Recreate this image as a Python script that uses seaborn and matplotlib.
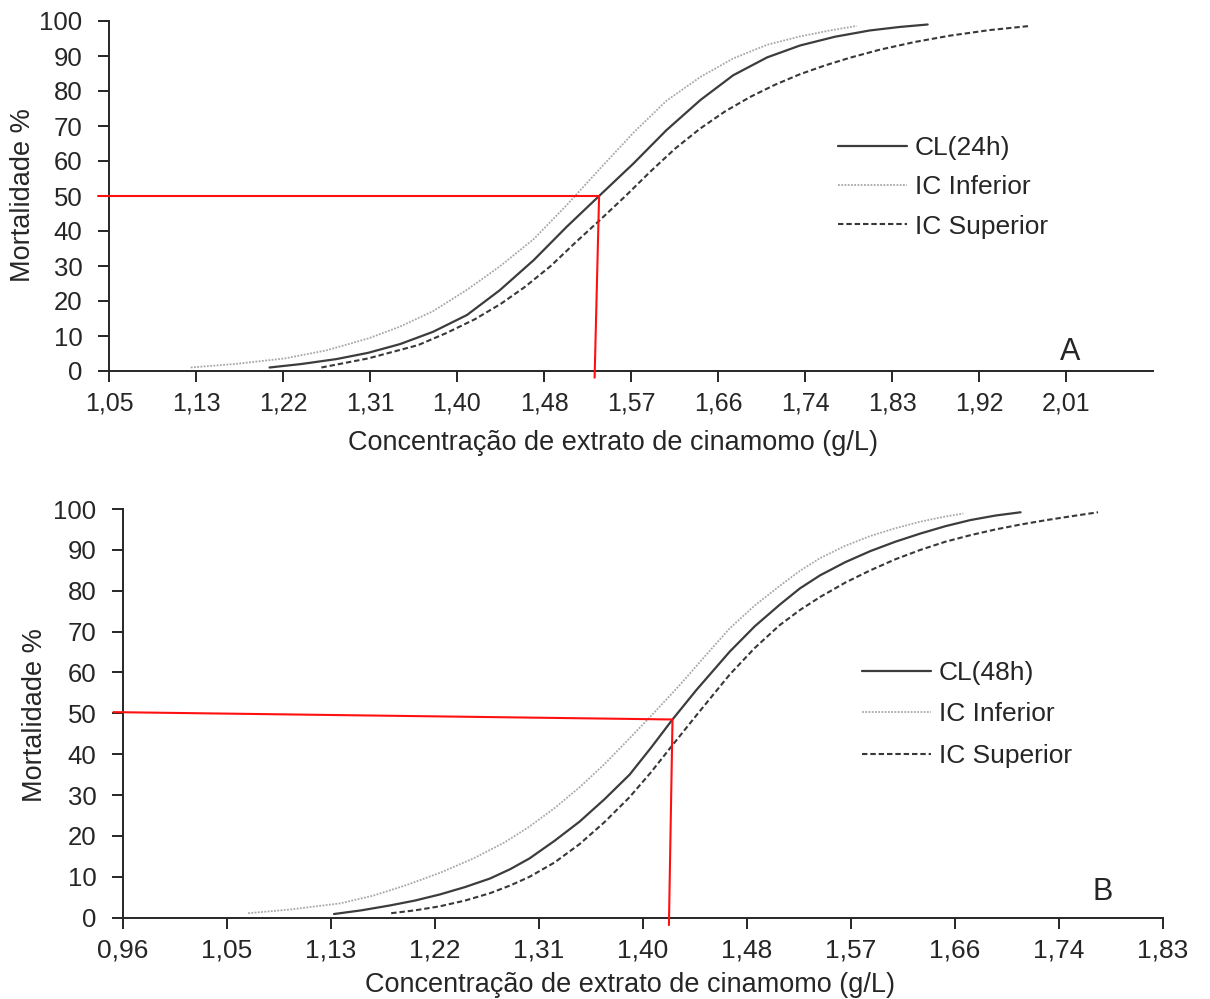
import matplotlib
matplotlib.use("Agg")
import matplotlib.pyplot as plt
from matplotlib.lines import Line2D
import seaborn as sns
import pandas as pd

sns.set_style("white")
plt.rcParams["font.family"] = ["Liberation Sans", "DejaVu Sans"]

# ---------------- Panel A: 24 h ----------------
a_ticks = ["1,05", "1,13", "1,22", "1,31", "1,40", "1,48", "1,57", "1,66",
           "1,74", "1,83", "1,92", "2,01"]
a_cl_x = [1.208, 1.240, 1.275, 1.307, 1.339, 1.372, 1.406, 1.439, 1.473,
          1.506, 1.5385, 1.573, 1.606, 1.640, 1.673, 1.707, 1.740, 1.775,
          1.810, 1.840, 1.868]
a_cl_y = [1.0, 2.0, 3.4, 5.2, 7.7, 11.2, 16.0, 23.1, 31.7,
          41.2, 50.0, 59.3, 68.8, 77.4, 84.5, 89.6, 93.0, 95.5,
          97.3, 98.3, 99.0]
a_inf_x = [1.129, 1.173, 1.2235, 1.265, 1.307, 1.339, 1.372, 1.406, 1.439,
           1.473, 1.506, 1.540, 1.573, 1.606, 1.640, 1.673, 1.707, 1.740,
           1.770, 1.797]
a_inf_y = [1.0, 2.0, 3.6, 5.9, 9.3, 12.7, 17.1, 23.2, 29.9,
           37.7, 47.4, 58.0, 68.1, 77.2, 84.0, 89.3, 93.2, 95.6,
           97.3, 98.6]
a_sup_x = [1.260, 1.307, 1.357, 1.385, 1.414, 1.440, 1.464, 1.490, 1.514,
           1.540, 1.565, 1.590, 1.615, 1.640, 1.665, 1.690, 1.715, 1.740,
           1.765, 1.790, 1.820, 1.855, 1.890, 1.930, 1.971]
a_sup_y = [1.0, 3.6, 7.4, 10.8, 14.8, 19.2, 24.0, 30.0, 36.5,
           43.3, 50.0, 57.0, 63.6, 69.3, 74.2, 78.3, 81.8, 84.8,
           87.3, 89.5, 91.8, 94.0, 95.8, 97.4, 98.6]
a_lc50_x = [1.036, 1.5385, 1.534]
a_lc50_y = [50.0, 50.0, -1.9]

# ---------------- Panel B: 48 h ----------------
b_ticks = ["0,96", "1,05", "1,13", "1,22", "1,31", "1,40", "1,48", "1,57",
           "1,66", "1,74", "1,83"]
b_cl_x = [1.137, 1.160, 1.184, 1.205, 1.226, 1.247, 1.268, 1.285, 1.301,
          1.322, 1.343, 1.364, 1.385, 1.403, 1.421, 1.441, 1.469, 1.490,
          1.511, 1.528, 1.545, 1.566, 1.587, 1.608, 1.629, 1.650, 1.671,
          1.692, 1.713]
b_cl_y = [0.9, 1.8, 3.0, 4.2, 5.7, 7.5, 9.6, 11.9, 14.5,
          18.8, 23.5, 29.0, 35.0, 41.6, 48.5, 55.7, 65.1, 71.3,
          76.6, 80.6, 83.8, 87.0, 89.7, 92.0, 94.0, 95.8, 97.3,
          98.4, 99.2]
b_inf_x = [1.065, 1.100, 1.142, 1.170, 1.198, 1.226, 1.254, 1.280, 1.301,
           1.322, 1.343, 1.364, 1.385, 1.406, 1.427, 1.448, 1.469, 1.490,
           1.511, 1.528, 1.545, 1.566, 1.587, 1.608, 1.629, 1.647, 1.665]
b_inf_y = [1.1, 2.0, 3.5, 5.4, 8.0, 11.0, 14.5, 18.4, 22.3,
           26.8, 31.9, 37.6, 43.9, 50.3, 56.9, 63.9, 70.8, 76.4,
           81.2, 84.9, 88.0, 91.0, 93.4, 95.3, 96.9, 98.0, 98.9]
b_sup_x = [1.185, 1.205, 1.226, 1.247, 1.268, 1.285, 1.301, 1.322, 1.343,
           1.364, 1.385, 1.403, 1.419, 1.441, 1.469, 1.490, 1.511, 1.528,
           1.545, 1.566, 1.587, 1.608, 1.629, 1.650, 1.671, 1.692, 1.713,
           1.735, 1.755, 1.778]
b_sup_y = [1.1, 1.8, 2.8, 4.2, 6.0, 7.9, 10.0, 13.5, 18.0,
           23.4, 29.5, 35.6, 41.5, 49.5, 59.5, 66.0, 71.6, 75.3,
           78.5, 82.0, 85.0, 87.7, 90.0, 92.0, 93.6, 95.0, 96.2,
           97.3, 98.2, 99.2]
b_lc50_x = [0.952, 1.421, 1.418]
b_lc50_y = [50.3, 48.5, -1.8]

y_ticks = list(range(0, 101, 10))
STEP = 0.08725

W, H = 1210, 999
fig = plt.figure(figsize=(W / 100, H / 100), dpi=100)
fig.patch.set_facecolor("white")

TXT = "#262626"
styles = {
    "cl": dict(color="#3c3c3c", linestyle="-", linewidth=1.6),
    "inf": dict(color="#a8a8a8", linestyle=(0, (1.0, 0.8)), linewidth=1.3),
    "sup": dict(color="#383838", linestyle=(0, (2.6, 1.4)), linewidth=1.5),
}


def draw_panel(ax, start, nsteps, ticklabels, series, lc50, cl_label,
               letter, letter_xy, legend_xy, tick_fs, label_sp):
    for key, (xs, ys) in series.items():
        df = pd.DataFrame({"x": xs, "y": ys})
        sns.lineplot(data=df, x="x", y="y", ax=ax, sort=False,
                     estimator=None, legend=False, **styles[key])
    ax.plot(lc50[0], lc50[1], color="#ff1010", linewidth=1.5,
            clip_on=False, zorder=5)

    ax.set_xlim(start, start + nsteps * STEP)
    ax.set_ylim(0, 100)
    ax.set_xticks([start + k * STEP for k in range(len(ticklabels))])
    ax.set_xticklabels(ticklabels)
    ax.set_yticks(y_ticks)
    ax.set_yticklabels([str(v) for v in y_ticks])
    ax.set_xlabel("")
    ax.set_ylabel("")
    for side in ("top", "right"):
        ax.spines[side].set_visible(False)
    for side in ("left", "bottom"):
        ax.spines[side].set_color(TXT)
        ax.spines[side].set_linewidth(1.4)
    ax.tick_params(axis="both", direction="out", length=8, width=1.4,
                   colors=TXT, bottom=True, left=True)
    ax.tick_params(axis="x", labelsize=tick_fs, pad=7)
    ax.tick_params(axis="y", labelsize=18.5, pad=11)
    ax.set_facecolor("white")

    handles = [
        Line2D([], [], **styles["cl"]),
        Line2D([], [], **styles["inf"]),
        Line2D([], [], **styles["sup"]),
    ]
    ax.legend(handles, [cl_label, "IC Inferior", "IC Superior"],
              loc="upper left", bbox_to_anchor=legend_xy,
              bbox_transform=fig.transFigure, frameon=False,
              fontsize=19, handlelength=2.6, handletextpad=0.3,
              labelspacing=label_sp, borderpad=0, borderaxespad=0,
              labelcolor=TXT)
    fig.text(letter_xy[0], letter_xy[1], letter, fontsize=22, color=TXT,
             ha="center", va="center")


axA = fig.add_axes([109 / W, 1 - 371 / H, 1044 / W, 350 / H])
draw_panel(axA, 1.047, 12, a_ticks,
           {"inf": (a_inf_x, a_inf_y), "sup": (a_sup_x, a_sup_y),
            "cl": (a_cl_x, a_cl_y)},
           (a_lc50_x, a_lc50_y), "CL(24h)", "A",
           (1070 / W, 1 - 352 / H), (838 / W, 1 - 136 / H), 18, 0.58)

axB = fig.add_axes([123 / W, 1 - 917.7 / H, 1040 / W, 408.7 / H])
draw_panel(axB, 0.96, 10, b_ticks,
           {"inf": (b_inf_x, b_inf_y), "sup": (b_sup_x, b_sup_y),
            "cl": (b_cl_x, b_cl_y)},
           (b_lc50_x, b_lc50_y), "CL(48h)", "B",
           (1103 / W, 1 - 892 / H), (862 / W, 1 - 661 / H), 19, 0.66)

# axis titles
fig.text(23 / W, 1 - 195 / H, "Mortalidade %", rotation=90, fontsize=19.5,
         color=TXT, ha="center", va="center")
fig.text(35 / W, 1 - 715 / H, "Mortalidade %", rotation=90, fontsize=19.5,
         color=TXT, ha="center", va="center")
fig.text(613 / W, 1 - 443 / H, "Concentração de extrato de cinamomo (g/L)",
         fontsize=19.5, color=TXT, ha="center", va="center")
fig.text(630 / W, 1 - 985 / H, "Concentração de extrato de cinamomo (g/L)",
         fontsize=19.5, color=TXT, ha="center", va="center")

fig.savefig("out.png", dpi=100, facecolor="white")
